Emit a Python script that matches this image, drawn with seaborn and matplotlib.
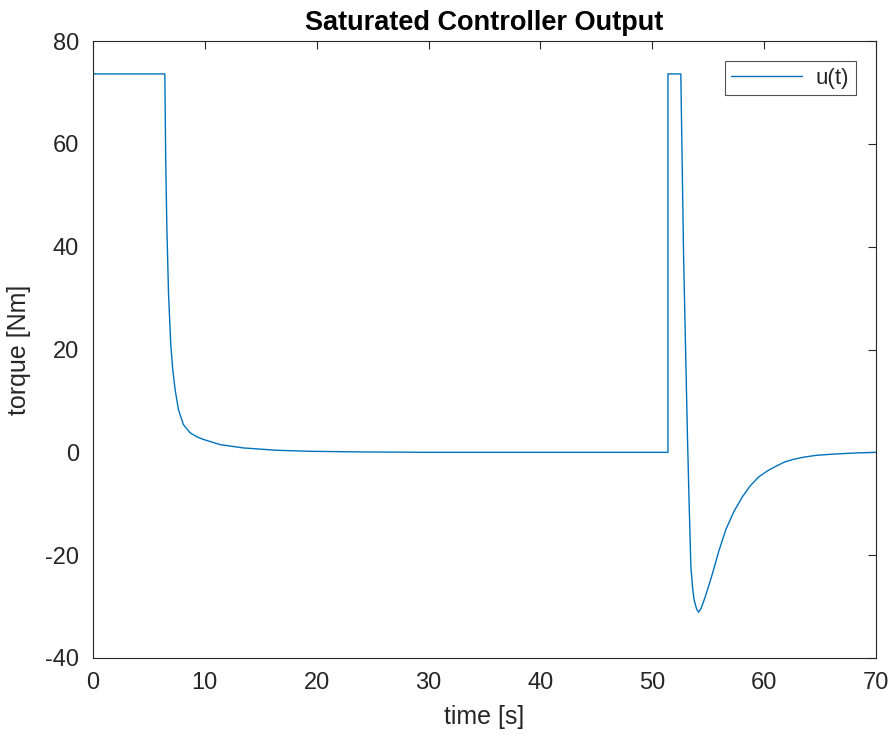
import numpy as np
import pandas as pd
import matplotlib
matplotlib.use("Agg")
import matplotlib.pyplot as plt
import seaborn as sns

# Data
t_vals = [0.0, 6.42, 6.5, 6.6, 6.75, 6.95, 7.13, 7.34, 7.64, 8.08, 8.68, 9.3, 9.88, 11.37,
          13.46, 16.44, 19.4, 23.9, 30.0, 51.4, 51.4, 52.55, 52.8, 53.15, 53.3, 53.45,
          53.6, 53.74, 53.95, 54.13, 54.35, 54.64, 55.0, 55.39, 55.95, 56.58, 57.3,
          58.07, 58.8, 59.56, 60.3, 61.06, 61.8, 62.55, 63.5, 64.6, 65.8, 67.0, 68.5, 70.0]
u_vals = [73.6, 73.6, 57.0, 44.0, 31.0, 21.0, 16.1, 12.2, 8.3, 5.4, 3.8, 3.0, 2.5, 1.5,
          0.85, 0.4, 0.2, 0.08, 0.0, 0.0, 73.6, 73.6, 38.0, 2.5, -10.5, -22.2,
          -26.3, -28.7, -30.4, -31.1, -30.4, -28.7, -26.3, -23.5, -19.2, -15.0, -11.5,
          -8.6, -6.4, -4.7, -3.6, -2.7, -1.9, -1.4, -0.95, -0.6, -0.4, -0.25, -0.1, 0.0]
x_ticks = [0, 10, 20, 30, 40, 50, 60, 70]
y_ticks = [-40, -20, 0, 20, 40, 60, 80]

df = pd.DataFrame({"time": t_vals, "u": u_vals, "series": "u(t)"})

sns.set_theme(style="white")
plt.rcParams["font.family"] = ["Liberation Sans", "DejaVu Sans"]
plt.rcParams["axes.unicode_minus"] = False

fig = plt.figure(figsize=(8.9, 7.36), dpi=100)
ax = fig.add_axes([93 / 890, 1 - 658 / 736, (876 - 93) / 890, (658 - 41) / 736])

sns.lineplot(data=df, x="time", y="u", hue="series", palette=["#0072BD"],
             sort=False, estimator=None, linewidth=1.0, ax=ax)

ax.set_xlim(0, 70)
ax.set_ylim(-40, 80)
ax.set_xticks(x_ticks)
ax.set_yticks(y_ticks)
ax.tick_params(direction="in", length=6, width=0.8, colors="#262626",
               labelsize=17, top=True, right=True, labelcolor="#262626", pad=10)
for s in ax.spines.values():
    s.set_color("#262626")
    s.set_linewidth(0.8)

ax.set_xlabel("time [s]", fontsize=18, color="#262626", labelpad=8)
ax.set_ylabel("torque [Nm]", fontsize=18, color="#262626", labelpad=10)
ax.set_title("Saturated Controller Output", fontsize=19.5, fontweight="bold", color="black", pad=8)

leg = ax.legend(loc="upper right", fontsize=16, frameon=True, fancybox=False,
                edgecolor="#262626", handlelength=3.2, borderaxespad=0.9,
                borderpad=0.3, handletextpad=0.6)
leg.get_frame().set_linewidth(0.8)

fig.savefig("out.png", dpi=100)
